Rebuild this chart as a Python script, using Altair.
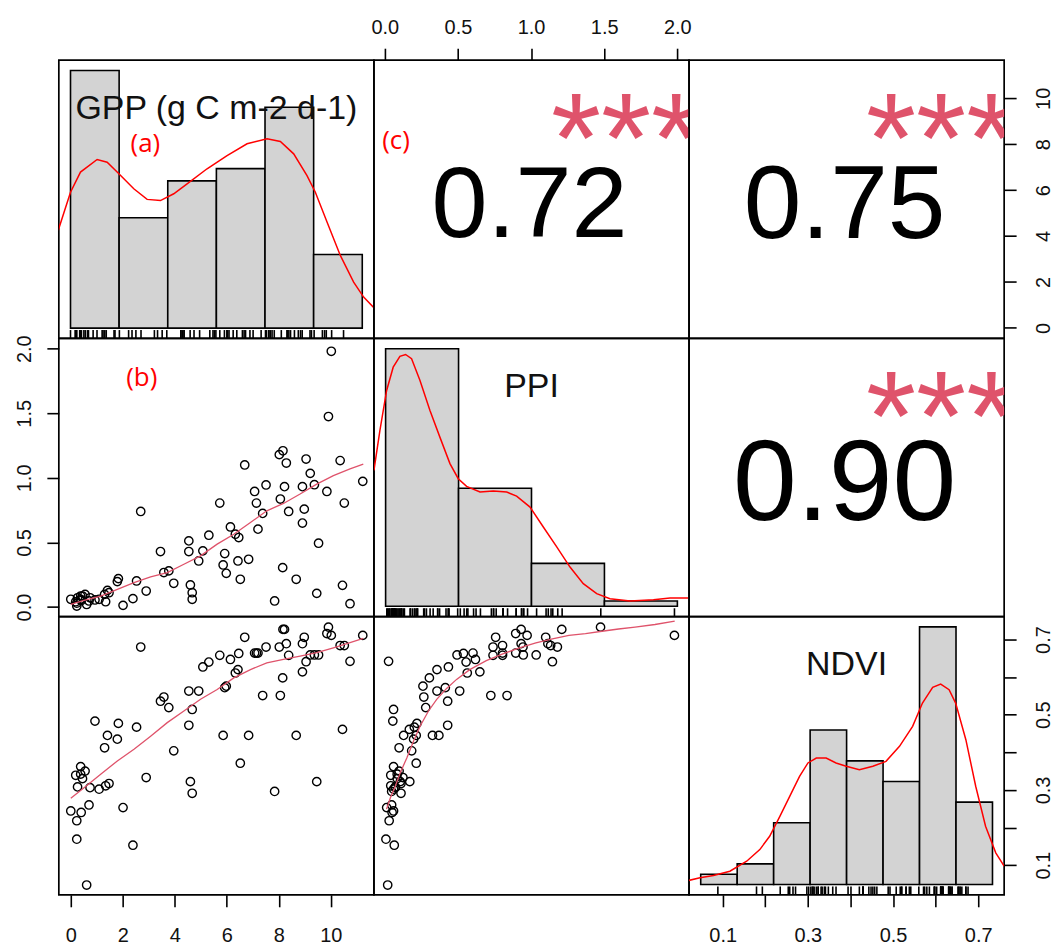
import altair as alt
import pandas as pd

# ---------------- data ----------------
gpp = [11.23, 10.74, 10.45, 10.52, 10.36, 10.02, 9.91, 9.85, 9.05, 9.21, 9.37, 9.53, 9.46,
       8.16, 8.02, 8.29, 8.22, 8.91, 8.06, 8.38, 8.98, 8.91, 8.15, 8.67, 7.84,
       6.69, 7.51, 7.07, 7.14, 7.20, 7.38, 6.14, 6.33, 6.46, 6.43, 6.84, 6.52,
       5.73, 5.31, 4.54, 4.54, 5.08, 5.92, 4.92, 5.86, 5.98, 4.60, 4.67, 4.67,
       2.69, 3.45, 3.58, 3.77, 3.96, 2.53, 2.90, 2.39, 2.01,
       0.00, 0.19, 0.23, 0.23, 0.26, 0.38, 0.38, 0.40, 0.55, 0.61, 0.70, 0.74,
       0.93, 1.09, 1.34, 1.47, 1.30, 1.41, 1.79, 1.83, 0.45]
ppi = [0.973, 0.026, 0.168, 0.805, 1.134, 1.980, 1.475, 0.895, 1.146, 1.035, 0.947, 0.494, 0.106,
       1.210, 1.180, 1.115, 0.932, 0.932, 0.836, 0.740, 0.758, 0.650, 0.305, 0.215, 0.047,
       1.100, 0.945, 0.895, 0.805, 0.603, 0.725, 0.620, 0.564, 0.538, 0.357, 0.370, 0.215,
       0.805, 0.556, 0.512, 0.430, 0.435, 0.414, 0.357, 0.326, 0.261, 0.171, 0.111, 0.060,
       0.740, 0.430, 0.267, 0.280, 0.184, 0.202, 0.124, 0.065, 0.013,
       0.060, 0.041, 0.008, 0.030, 0.072, 0.060, 0.085, 0.050, 0.098, 0.020, 0.047, 0.072,
       0.055, 0.060, 0.041, 0.111, 0.098, 0.129, 0.197, 0.220, 0.085]
ndvi = [0.711, 0.642, 0.461, 0.684, 0.684, 0.711, 0.733, 0.716, 0.641, 0.659, 0.659, 0.659, 0.322,
        0.727, 0.680, 0.689, 0.727, 0.689, 0.551, 0.658, 0.706, 0.614, 0.598, 0.445, 0.296,
        0.706, 0.680, 0.664, 0.664, 0.664, 0.551, 0.647, 0.611, 0.663, 0.620, 0.445, 0.371,
        0.658, 0.640, 0.563, 0.472, 0.627, 0.572, 0.563, 0.445, 0.576, 0.322, 0.291, 0.514,
        0.680, 0.536, 0.547, 0.519, 0.404, 0.467, 0.333, 0.153, 0.253,
        0.244, 0.339, 0.169, 0.218, 0.308, 0.362, 0.342, 0.240, 0.350, 0.047, 0.260, 0.306,
        0.483, 0.302, 0.311, 0.317, 0.412, 0.445, 0.435, 0.477, 0.330]

var_labels = ["GPP (g C m-2 d-1)", "PPI", "NDVI"]

gpp_breaks = [0, 2, 4, 6, 8, 10, 12]
gpp_counts = [21, 9, 12, 13, 18, 6]
ppi_breaks = [0.0, 0.5, 1.0, 1.5, 2.0]
ppi_counts = [48, 22, 8, 1]
ndvi_breaks = [0.0, 0.1, 0.2, 0.3, 0.4, 0.5, 0.6, 0.7, 0.8]
ndvi_counts = [1, 2, 6, 15, 12, 10, 25, 8]

gpp_dens_x = [-0.507, 0.0, 0.411, 1.096, 1.507, 1.918, 2.603, 3.151, 3.699, 4.247, 4.795, 5.617,
              6.439, 7.261, 8.083, 8.631, 9.179, 9.727, 10.07, 10.55, 11.097, 11.645, 12.056, 12.495]
gpp_dens_y = [0.0504, 0.0701, 0.0805, 0.0870, 0.0856, 0.0805, 0.0719, 0.0664, 0.0658, 0.0693, 0.0744,
              0.0822, 0.0890, 0.0951, 0.0977, 0.0963, 0.0899, 0.0787, 0.0701, 0.0547, 0.0375, 0.0237,
              0.0160, 0.0103]
ppi_dens_x = [-0.080, -0.039, 0.007, 0.052, 0.098, 0.137, 0.178, 0.235, 0.304, 0.372, 0.441, 0.498,
              0.555, 0.647, 0.738, 0.830, 0.898, 0.990, 1.081, 1.173, 1.264, 1.355, 1.447, 1.538,
              1.676, 1.836, 1.950, 2.076]
ppi_dens_y = [0.641, 0.830, 1.018, 1.128, 1.179, 1.188, 1.168, 1.066, 0.924, 0.798, 0.673, 0.602,
              0.566, 0.539, 0.544, 0.539, 0.520, 0.468, 0.374, 0.280, 0.185, 0.107, 0.060, 0.036,
              0.025, 0.031, 0.039, 0.039]
ndvi_dens_x = [-0.034, -0.002, 0.035, 0.080, 0.126, 0.162, 0.189, 0.217, 0.244, 0.271, 0.294, 0.317,
               0.344, 0.371, 0.399, 0.435, 0.472, 0.508, 0.545, 0.581, 0.608, 0.636, 0.658, 0.681,
               0.699, 0.727, 0.754, 0.781, 0.809, 0.832]
ndvi_dens_y = [0.049, 0.082, 0.110, 0.163, 0.286, 0.429, 0.593, 0.838, 1.083, 1.329, 1.493, 1.554,
               1.554, 1.493, 1.452, 1.411, 1.452, 1.513, 1.697, 1.943, 2.229, 2.421, 2.462, 2.393,
               2.229, 1.779, 1.207, 0.716, 0.389, 0.225]

sm_gp_x = [0.0, 0.512, 1.151, 1.79, 2.43, 3.07, 3.71, 4.35, 4.99, 5.63, 6.27, 6.91, 7.54, 8.18,
           8.82, 9.46, 10.1, 10.74, 11.25]
sm_gp_y = [0.021, 0.052, 0.085, 0.137, 0.189, 0.233, 0.266, 0.331, 0.396, 0.487, 0.564, 0.655,
           0.745, 0.802, 0.875, 0.952, 1.017, 1.069, 1.107]
sm_gn_x = [0.0, 0.51, 1.15, 1.79, 2.43, 3.07, 3.71, 4.35, 4.99, 5.63, 6.27, 6.91, 7.54, 8.18,
           8.82, 9.46, 10.1, 10.74, 11.25]
sm_gn_y = [0.278, 0.306, 0.342, 0.377, 0.408, 0.443, 0.479, 0.510, 0.541, 0.567, 0.598, 0.620,
           0.638, 0.647, 0.656, 0.665, 0.678, 0.692, 0.703]
sm_pn_x = [0.012, 0.039, 0.073, 0.106, 0.152, 0.197, 0.242, 0.299, 0.355, 0.423, 0.491, 0.581,
           0.694, 0.807, 0.920, 1.033, 1.146, 1.259, 1.372, 1.485, 1.598, 1.711, 1.847, 1.982]
sm_pn_y = [0.249, 0.280, 0.311, 0.346, 0.386, 0.430, 0.470, 0.510, 0.541, 0.570, 0.594, 0.620,
           0.644, 0.662, 0.678, 0.691, 0.702, 0.711, 0.716, 0.722, 0.728, 0.733, 0.740, 0.749]

cor_text = ["0.72", "0.75", "0.90"]
cor_stars = ["***", "***", "***"]
panel_tags = ["(a)", "(b)", "(c)"]

gpp_ticks = [0, 2, 4, 6, 8, 10]
ppi_ticks = [0.0, 0.5, 1.0, 1.5, 2.0]
ndvi_ticks = [0.1, 0.2, 0.3, 0.4, 0.5, 0.6, 0.7]

# ---------------- styling / layout ----------------
W, H = 316, 279
FONT = "Liberation Sans"
TAG_FONT = "Open Sans"
GPP_DOM = [-0.46, 11.66]
PPI_DOM = [-0.074, 2.08]
NDVI_DOM = [0.021, 0.761]
STAR_FS = 129
COR_FS = [101, 104, 115]
LW = 1.6


def sc(dom):
    return alt.Scale(domain=list(dom), nice=False, zero=False)


def mk_axis(orient, values, fmt, angle=0, baseline="alphabetic", pad=15, expr=None):
    kw = dict(orient=orient, values=values, format=fmt, title=None, domain=False, grid=False,
              ticks=True, tickSize=12, tickWidth=LW, tickColor="black",
              labelFont=FONT, labelFontSize=20, labelColor="#111111",
              labelPadding=pad, labelAngle=angle, labelBaseline=baseline, labelAlign="center",
              labelOverlap=False, labelFlush=False, labelBound=False)
    if expr:
        kw["labelExpr"] = expr
    return alt.Axis(**kw)


odd_expr = "(round(datum.value*10) % 2 == 1) ? datum.label : ''"
AX_TOP_PPI = mk_axis("top", ppi_ticks, ".1f", 0, "alphabetic", 15)
AX_RIGHT_GPP = mk_axis("right", gpp_ticks, "d", 270, "top", 17)
AX_LEFT_PPI = mk_axis("left", ppi_ticks, ".1f", 270, "alphabetic", 16)
AX_BOTTOM_GPP = mk_axis("bottom", gpp_ticks, "d", 0, "top", 19)
AX_BOTTOM_NDVI = mk_axis("bottom", ndvi_ticks, ".1f", 0, "top", 19, odd_expr)
AX_RIGHT_NDVI = mk_axis("right", ndvi_ticks, ".1f", 270, "top", 17, odd_expr)


def tag_layer(xv, yv, text, xs, ys):
    df = pd.DataFrame({"x": [xv], "y": [yv], "t": [text]})
    return alt.Chart(df).mark_text(font=TAG_FONT, fontSize=26, color="#FF0000",
                                   align="center", baseline="middle").encode(
        x=alt.X("x:Q", scale=xs, axis=None), y=alt.Y("y:Q", scale=ys, axis=None), text="t:N")


def hist_panel(vals, breaks, counts, dx, dy, label, xdom, tag=None):
    n = sum(counts)
    dens = [c / (n * (b1 - b0)) for c, b0, b1 in zip(counts, breaks[:-1], breaks[1:])]
    top = max(dens)
    ydom = [-0.04 * top, 1.04 * top]
    span = ydom[1] - ydom[0]
    xs, ys = sc(xdom), sc(ydom)
    bars = alt.Chart(pd.DataFrame({"x0": breaks[:-1], "x1": breaks[1:], "d": dens,
                                   "z": [0.0] * len(dens)})).mark_rect(
        fill="#D3D3D3", stroke="black", strokeWidth=LW).encode(
        x=alt.X("x0:Q", scale=xs, axis=None), x2="x1:Q",
        y=alt.Y("d:Q", scale=ys, axis=None), y2="z:Q")
    line = alt.Chart(pd.DataFrame({"x": dx, "y": dy})).mark_line(
        color="#FF0000", strokeWidth=1.5, clip=True).encode(
        x=alt.X("x:Q", scale=xs, axis=None), y=alt.Y("y:Q", scale=ys, axis=None))
    rug = alt.Chart(pd.DataFrame({"v": vals, "lo": ydom[0], "hi": ydom[0] + 0.03 * span})).mark_rule(
        color="black", strokeWidth=1.6).encode(
        x=alt.X("v:Q", scale=xs, axis=None), y=alt.Y("lo:Q", scale=ys, axis=None), y2="hi:Q")
    lab = alt.Chart(pd.DataFrame({"x": [(xdom[0] + xdom[1]) / 2], "y": [ydom[0] + 0.825 * span],
                                  "t": [label]})).mark_text(
        font=FONT, fontSize=34, color="#111111", align="center", baseline="middle").encode(
        x=alt.X("x:Q", scale=xs, axis=None), y=alt.Y("y:Q", scale=ys, axis=None), text="t:N")
    layers = [bars, line, rug, lab]
    if tag is not None:
        layers.append(tag_layer(tag[0], tag[1] * top, tag[2], xs, ys))
    return alt.layer(*layers)


def scatter_panel(xv, yv, smx, smy, xdom, ydom, xaxis=None, yaxis=None, tag=None):
    xs, ys = sc(xdom), sc(ydom)
    pts = alt.Chart(pd.DataFrame({"x": xv, "y": yv})).mark_point(
        shape="circle", filled=False, color="black", size=70, strokeWidth=1.4, opacity=1).encode(
        x=alt.X("x:Q", scale=xs, axis=xaxis), y=alt.Y("y:Q", scale=ys, axis=yaxis))
    sm = alt.Chart(pd.DataFrame({"x": smx, "y": smy})).mark_line(
        color="#DF536B", strokeWidth=1.3).encode(
        x=alt.X("x:Q", scale=xs, axis=xaxis), y=alt.Y("y:Q", scale=ys, axis=yaxis))
    layers = [pts, sm]
    if tag is not None:
        df = pd.DataFrame({"x": [tag[0]], "y": [tag[1]], "t": [tag[2]]})
        layers.append(alt.Chart(df).mark_text(font=TAG_FONT, fontSize=26, color="#FF0000",
                                              align="center", baseline="middle").encode(
            x=alt.X("x:Q", scale=xs, axis=xaxis), y=alt.Y("y:Q", scale=ys, axis=yaxis), text="t:N"))
    return alt.layer(*layers).properties(width=W, height=H)


def cor_panel(txt, stars, fs, holder=None, tag=None):
    fx, fy = sc([0, 1]), sc([0, 1])
    num = alt.Chart(pd.DataFrame({"x": [0.5], "y": [0.5], "t": [txt]})).mark_text(
        font=FONT, fontSize=fs, color="black", align="center", baseline="alphabetic",
        dy=round(0.358 * fs + 2), dx=-2).encode(
        x=alt.X("x:Q", scale=fx, axis=None), y=alt.Y("y:Q", scale=fy, axis=None), text="t:N")
    st = alt.Chart(pd.DataFrame({"x": [0.8], "y": [0.8], "t": [stars]})).mark_text(
        font=FONT, fontSize=STAR_FS, color="#DF536B", align="center", baseline="alphabetic",
        dy=66, clip=True).encode(
        x=alt.X("x:Q", scale=fx, axis=None), y=alt.Y("y:Q", scale=fy, axis=None), text="t:N")
    layers = [num, st]
    if tag is not None:
        layers.append(tag_layer(tag[0], tag[1], tag[2], fx, fy))
    inner = alt.layer(*layers)
    if holder is None:
        return inner.properties(width=W, height=H)
    return alt.layer(holder, inner).resolve_scale(x="independent", y="independent").properties(
        width=W, height=H)


def holder(values, xdom=None, xaxis=None, ydom=None, yaxis=None):
    enc = {}
    enc["x"] = alt.X("v:Q", scale=sc(xdom), axis=xaxis) if xaxis is not None else alt.value(0)
    enc["y"] = alt.Y("v:Q", scale=sc(ydom), axis=yaxis) if yaxis is not None else alt.value(0)
    return alt.Chart(pd.DataFrame({"v": values})).mark_point(opacity=0, size=1).encode(**enc)


GPP_HDOM = [-0.48, 12.48]
PPI_HDOM = [-0.08, 2.08]
NDVI_HDOM = [-0.032, 0.832]

p11 = hist_panel(gpp, gpp_breaks, gpp_counts, gpp_dens_x, gpp_dens_y, var_labels[0], GPP_HDOM,
                 tag=(3.08, 0.713, panel_tags[0])).properties(width=W, height=H)
p12 = cor_panel(cor_text[0], cor_stars[0], COR_FS[0],
                holder=holder(ppi_ticks, xdom=PPI_DOM, xaxis=AX_TOP_PPI),
                tag=(0.07, 0.71, panel_tags[2]))
p13 = cor_panel(cor_text[1], cor_stars[1], COR_FS[1],
                holder=holder(gpp_ticks, ydom=GPP_DOM, yaxis=AX_RIGHT_GPP))
p21 = scatter_panel(gpp, ppi, sm_gp_x, sm_gp_y, GPP_DOM, PPI_DOM, yaxis=AX_LEFT_PPI,
                    tag=(2.73, 1.774, panel_tags[1]))
p22 = hist_panel(ppi, ppi_breaks, ppi_counts, ppi_dens_x, ppi_dens_y, var_labels[1],
                 PPI_HDOM).properties(width=W, height=H)
p23 = cor_panel(cor_text[2], cor_stars[2], COR_FS[2])
p31 = scatter_panel(gpp, ndvi, sm_gn_x, sm_gn_y, GPP_DOM, NDVI_DOM, xaxis=AX_BOTTOM_GPP)
p32 = scatter_panel(ppi, ndvi, sm_pn_x, sm_pn_y, PPI_DOM, NDVI_DOM)
p33 = alt.layer(
    holder(ndvi_ticks, xdom=NDVI_DOM, xaxis=AX_BOTTOM_NDVI, ydom=NDVI_DOM, yaxis=AX_RIGHT_NDVI),
    hist_panel(ndvi, ndvi_breaks, ndvi_counts, ndvi_dens_x, ndvi_dens_y, var_labels[2], NDVI_HDOM),
).resolve_scale(x="independent", y="independent").properties(width=W, height=H)

chart = alt.concat(p11, p12, p13, p21, p22, p23, p31, p32, p33,
                   columns=3, spacing=0, bounds="flush").properties(
    padding={"left": 14, "top": 15, "right": 5, "bottom": 5},
    background="white",
).configure_view(stroke="black", strokeWidth=1.7)

chart.save("out.html", embed_options={"renderer": "svg", "actions": False})
